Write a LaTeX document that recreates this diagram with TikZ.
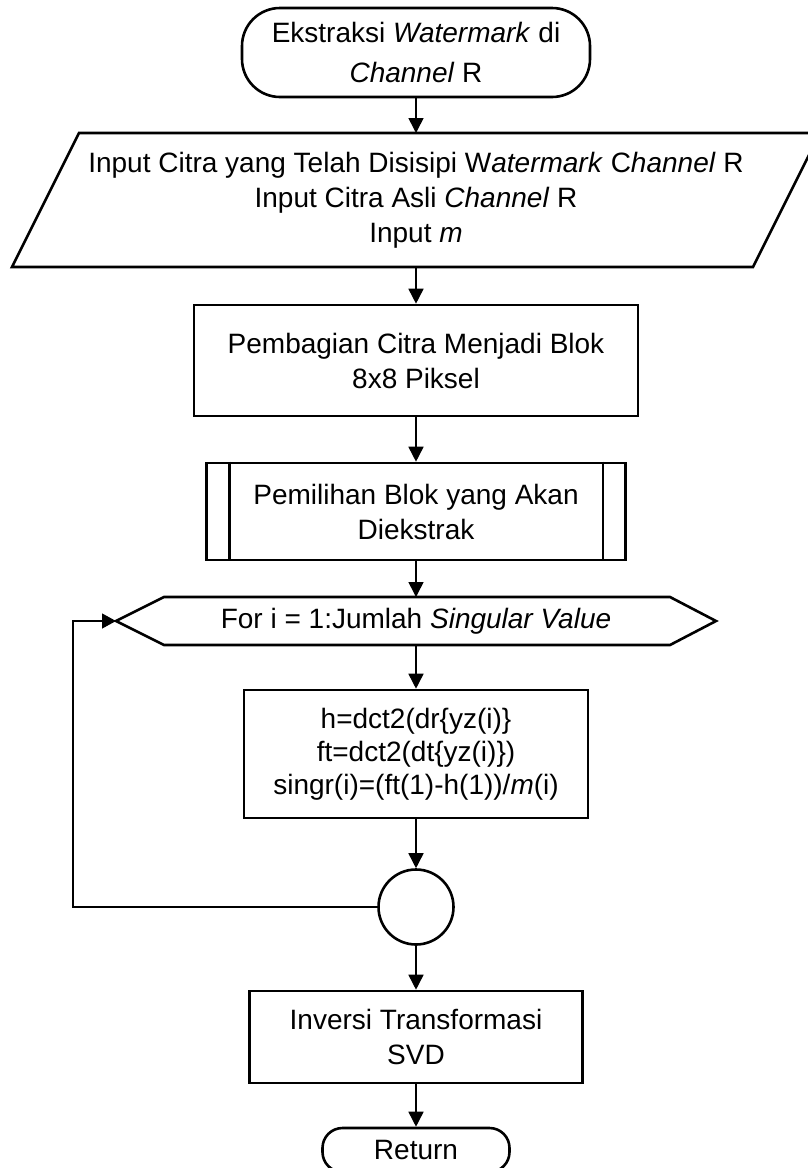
\documentclass[tikz,border=0pt]{standalone}
\usepackage{fontspec}
\setmainfont{Liberation Sans}
\usetikzlibrary{arrows.meta,calc}
\begin{document}
\begin{tikzpicture}[x=1pt,y=-1pt,
  every node/.style={font=\fontsize{28}{35}\selectfont, align=center, inner sep=0pt},
  edge/.style={line width=2.6pt, line join=miter},
  box/.style={draw, edge},
  holder/.style={outer sep=0pt},
  terminal/.style={draw, edge},
  conn/.style={line width=1.6pt, -{Triangle[length=15pt,width=15pt]}},
  loopline/.style={line width=1.3pt, -{Triangle[length=14pt,width=15pt]}}
]
\clip (0,0) rectangle (808,1168);
\useasboundingbox (0,0) rectangle (808,1168);
\fill[white] (0,0) rectangle (808,1168);

% start terminal
\node[terminal, rounded corners=38pt, minimum width=348pt, minimum height=89pt,
      font=\fontsize{28}{40}\selectfont] (start) at (416,52.5)
  {Ekstraksi \textit{Watermark} di\\\textit{Channel} R};

% input (parallelogram)
\node[holder, minimum width=741pt, minimum height=134pt] (input) at (416,200)
  {Input Citra yang Telah Disisipi W\textit{atermark} C\textit{hannel} R\\
   Input Citra Asli \textit{Channel} R\\Input \textit{m}};
\draw[edge] ($(input.north west)+(33.5,0)$) -- ($(input.north east)+(33.5,0)$)
  -- ($(input.south east)+(-33.5,0)$) -- ($(input.south west)+(-33.5,0)$) -- cycle;

% block division
\node[box, minimum width=444pt, minimum height=111pt] (blok) at (416,360.5)
  {Pembagian Citra Menjadi Blok\\8x8 Piksel};

% predefined process
\node[box, minimum width=419pt, minimum height=97pt] (pilih) at (416,511.5)
  {Pemilihan Blok yang Akan\\Diekstrak};
\draw[edge] ([xshift=24pt]pilih.north west) -- ([xshift=24pt]pilih.south west);
\draw[edge] ([xshift=-24pt]pilih.north east) -- ([xshift=-24pt]pilih.south east);

% loop header (hexagon)
\node[holder, minimum width=600pt, minimum height=48pt] (loop) at (416,621)
  {For i = 1:Jumlah \textit{Singular Value}};
\draw[edge] (loop.west) -- ($(loop.north west)+(48,0)$) -- ($(loop.north east)+(-46,0)$)
  -- (loop.east) -- ($(loop.south east)+(-46,0)$) -- ($(loop.south west)+(48,0)$) -- cycle;

% loop body
\node[box, minimum width=344pt, minimum height=128pt, font=\fontsize{28}{33}\selectfont]
  (proc) at (416,754)
  {h=dct2(dr\{yz(i)\}\\ft=dct2(dt\{yz(i)\})\\singr(i)=(ft(1)-h(1))/\textit{m}(i)};

% connector circle
\node[draw, circle, edge, minimum size=75pt] (circ) at (416,907) {};

% inverse transform
\node[box, minimum width=333pt, minimum height=92pt] (inv) at (416,1037)
  {Inversi Transformasi\\SVD};

% return terminal
\node[terminal, rounded corners=20pt, minimum width=187pt, minimum height=44pt] (ret)
  at (416,1150) {Return};

% connectors
\draw[conn] (start.south) -- (input.north);
\draw[conn] (input.south) -- (blok.north);
\draw[conn] (blok.south) -- (pilih.north);
\draw[conn] (pilih.south) -- (loop.north);
\draw[conn] (loop.south) -- (proc.north);
\draw[conn] (proc.south) -- (circ.north);
\draw[conn] (circ.south) -- (inv.north);
\draw[conn] (inv.south) -- (ret.north);

\coordinate (back) at (73,907);
\draw[loopline] (circ.west) -- (back) |- (loop.west);
\end{tikzpicture}
\end{document}
